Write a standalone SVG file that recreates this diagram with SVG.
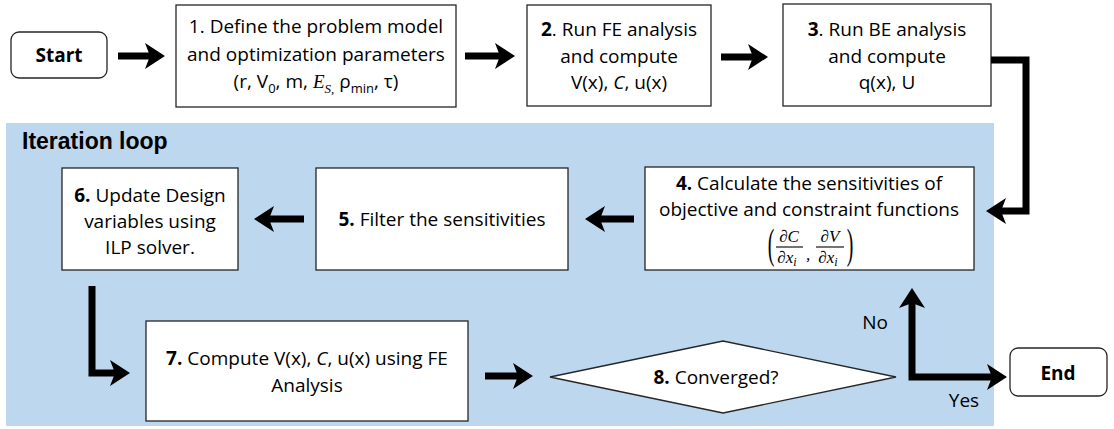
<svg xmlns="http://www.w3.org/2000/svg" width="1114" height="429" viewBox="0 0 1114 429">
  <style>
    .box { fill: #ffffff; stroke: #262626; stroke-width: 1.3; }
    .t { font-family: "Open Sans", "Liberation Sans", sans-serif; font-size: 19px; fill: #000; text-anchor: middle; }
    .b { font-weight: bold; }
    .m { font-family: "Liberation Serif", "DejaVu Serif", serif; font-style: italic; }
    .sub { font-size: 13px; }
    .fm { font-family: "Liberation Serif", "DejaVu Serif", serif; font-style: italic; font-size: 17px; fill: #000; text-anchor: middle; }
    .par { font-family: "Liberation Serif", "DejaVu Serif", serif; font-size: 22px; fill: #000; text-anchor: middle; }
    .arrow { fill: none; stroke: #000; stroke-width: 7; stroke-linejoin: miter; }
  </style>
  <defs>
    <marker id="head" markerUnits="userSpaceOnUse" viewBox="0 0 20 26" refX="6" refY="13" markerWidth="20" markerHeight="26" orient="auto-start-reverse">
      <path d="M0,0 L20,13 L0,26 L5,13 Z" fill="#000"/>
    </marker>
  </defs>

  <!-- iteration loop background -->
  <g id="loop">
    <rect x="6" y="123" width="988" height="303" fill="#bdd7ee"/>
    <text x="22" y="149" font-family="Liberation Sans, Arial, sans-serif" font-weight="bold" font-size="23" fill="#000">Iteration loop</text>
  </g>

  <g id="start">
    <rect class="box" x="11" y="32" width="96" height="46" rx="8"/>
    <text class="t b" x="59" y="62">Start</text>
  </g>

  <g id="step1">
    <rect class="box" x="176" y="5" width="280" height="102"/>
    <text class="t" x="316" y="33">1. Define the problem model</text>
    <text class="t" x="316" y="61">and optimization parameters</text>
    <text class="t" x="316" y="88">(r, V<tspan class="sub" dy="5">0</tspan><tspan dy="-5">, m, </tspan><tspan class="m">E</tspan><tspan class="sub m" dy="5">S,</tspan><tspan dy="-5"> ρ</tspan><tspan class="sub" dy="5">min</tspan><tspan dy="-5">, τ)</tspan></text>
  </g>

  <g id="step2">
    <rect class="box" x="527" y="5" width="184" height="101"/>
    <text class="t" x="619" y="36"><tspan class="b">2</tspan>. Run FE analysis</text>
    <text class="t" x="619" y="63">and compute</text>
    <text class="t" x="619" y="89">V(x), <tspan font-style="italic">C</tspan>, u(x)</text>
  </g>

  <g id="step3">
    <rect class="box" x="783" y="4" width="208" height="102"/>
    <text class="t" x="887" y="36"><tspan class="b">3</tspan>. Run BE analysis</text>
    <text class="t" x="887" y="63">and compute</text>
    <text class="t" x="887" y="89">q(x), U</text>
  </g>

  <g id="step4">
    <rect class="box" x="645" y="167" width="329" height="103"/>
    <text class="t" x="809" y="190"><tspan class="b">4.</tspan> Calculate the sensitivities of</text>
    <text class="t" x="809" y="216">objective and constraint functions</text>
    <text class="par" transform="translate(771,258) scale(0.9,1.95)">(</text>
    <text class="fm" x="789" y="242">∂C</text>
    <line x1="776" y1="247" x2="803" y2="247" stroke="#000" stroke-width="1.1"/>
    <text class="fm" x="787" y="263">∂x<tspan font-size="12" dy="3">i</tspan></text>
    <text class="fm" x="808" y="260">,</text>
    <text class="fm" x="830" y="242">∂V</text>
    <line x1="816" y1="247" x2="844" y2="247" stroke="#000" stroke-width="1.1"/>
    <text class="fm" x="828" y="263">∂x<tspan font-size="12" dy="3">i</tspan></text>
    <text class="par" transform="translate(850,258) scale(0.9,1.95)">)</text>
  </g>

  <g id="step5">
    <rect class="box" x="316" y="168" width="252" height="102"/>
    <text class="t" x="442" y="226"><tspan class="b">5.</tspan> Filter the sensitivities</text>
  </g>

  <g id="step6">
    <rect class="box" x="62" y="168" width="176" height="102"/>
    <text class="t" x="150" y="202"><tspan class="b">6.</tspan> Update Design</text>
    <text class="t" x="150" y="228">variables using</text>
    <text class="t" x="150" y="254">ILP solver.</text>
  </g>

  <g id="step7">
    <rect class="box" x="146" y="321" width="322" height="100"/>
    <text class="t" x="307" y="365"><tspan class="b">7.</tspan> Compute V(x), <tspan font-style="italic">C</tspan>, u(x) using FE</text>
    <text class="t" x="307" y="392">Analysis</text>
  </g>

  <g id="step8">
    <polygon class="box" points="550,377 723,341 896,377 723,413"/>
    <text class="t" x="716" y="384"><tspan class="b">8.</tspan> Converged?</text>
  </g>

  <g id="end">
    <rect class="box" x="1010" y="348" width="97" height="48" rx="8"/>
    <text class="t b" x="1058" y="380">End</text>
  </g>

  <g id="connectors">
    <path class="arrow" d="M118,56 H151" marker-end="url(#head)"/>
    <path class="arrow" d="M465,56 H501" marker-end="url(#head)"/>
    <path class="arrow" d="M721,57 H754" marker-end="url(#head)"/>
    <path class="arrow" d="M991,60 H1026 V211 H1000" marker-end="url(#head)"/>
    <path class="arrow" d="M634,219 H599" marker-end="url(#head)"/>
    <path class="arrow" d="M304,219 H268" marker-end="url(#head)"/>
    <path class="arrow" d="M92,286 V373 H116" marker-end="url(#head)"/>
    <path class="arrow" d="M485,376 H519" marker-end="url(#head)"/>
    <path class="arrow" d="M912,302 V377 H993" marker-start="url(#head)" marker-end="url(#head)"/>
    <text class="t" x="875" y="329">No</text>
    <text class="t" x="964" y="407">Yes</text>
  </g>
</svg>
